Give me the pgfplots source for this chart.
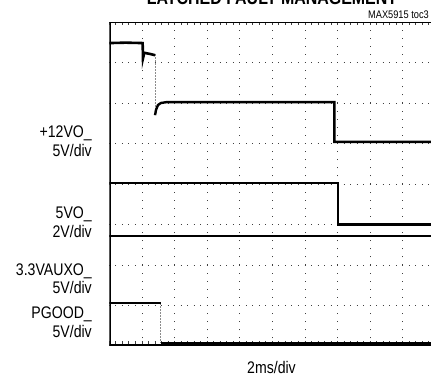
\documentclass[border=0pt]{standalone}
\usepackage{pgfplots}
\pgfplotsset{compat=1.18}
\usepackage{fontspec}
\setmainfont{Liberation Sans}[FakeStretch=0.84]
\newcommand{\lab}{\fontsize{16.8bp}{19bp}\selectfont}
\begin{document}
\begin{tikzpicture}[x=1bp,y=1bp]
\useasboundingbox (0,0) rectangle (431,378);
\clip (0,0) rectangle (431,378);
\begin{axis}[at={(109.4bp,32bp)}, anchor=south west,
  width=326bp, height=324bp, scale only axis,
  xmin=0, xmax=10, ymin=0, ymax=8, hide axis]
% graticule
\pgfplotsinvokeforeach{1,2,3,4,5,6,7,8,9}{
  \draw[black!75, line width=1bp, dash pattern=on 1bp off 7.1bp, dash phase=0.5bp] (axis cs:#1,0) -- (axis cs:#1,8);}
\pgfplotsinvokeforeach{1,2,3,4,5,6,7}{
  \draw[black!75, line width=1bp, dash pattern=on 1bp off 5.52bp, dash phase=0.5bp] (axis cs:0,#1) -- (axis cs:10,#1);}
\draw[black!75, line width=3bp, dash pattern=on 1bp off 5.52bp, dash phase=0.5bp] ([yshift=-1.5bp]axis cs:0,8) -- ([yshift=-1.5bp]axis cs:10,8);
\draw[black!75, line width=3bp, dash pattern=on 1bp off 5.52bp, dash phase=0.5bp] ([yshift=3.5bp]axis cs:0,0) -- ([yshift=3.5bp]axis cs:10,0);
% faint transitions
\addplot[black!45, line width=1bp, dash pattern=on 1.5bp off 1.5bp] coordinates {(1.40,7.20) (1.40,5.70)};
\addplot[black!45, line width=1bp, dash pattern=on 1.5bp off 1.5bp] coordinates {(1.57,1.06) (1.57,0.07)};
% +12VO_
\addplot[black, line width=2.6bp] coordinates {
 (0,7.48) (0.5,7.49) (1.02,7.48) (1.03,7.10) (1.07,7.24) (1.25,7.21) (1.40,7.18)};
\addplot[black, line width=2.4bp] coordinates {
 (1.40,5.70) (1.43,5.83) (1.49,5.95) (1.58,6.00) (1.74,6.02) (4,6.02) (6.90,6.02)
 (6.90,5.04) (10,5.04)};
% 5VO_
\addplot[black, line width=2.6bp] coordinates {
 (0,4.02) (7.01,4.02) (7.01,3.00) (10,3.00)};
% 3.3VAUXO_
\addplot[black, line width=2.6bp] coordinates {(0,2.72) (10,2.72)};
% PGOOD_
\addplot[black, line width=2.6bp] coordinates {(0,1.06) (1.57,1.06)};
\addplot[black, line width=2.6bp] coordinates {(1.57,0.07) (10,0.07)};
% borders
\draw[black, line width=1.2bp] (axis cs:0,8) -- (axis cs:10,8);
\draw[black, line width=3.3bp] (axis cs:0,-0.05) -- (axis cs:0,8);
\draw[black, line width=4.5bp] (axis cs:0,0) -- (axis cs:10,0);
\end{axis}
\node[anchor=base east, inner sep=0] at (92,241) {\lab +12VO\_};
\node[anchor=base east, inner sep=0] at (92,222) {\lab 5V/div};
\node[anchor=base east, inner sep=0] at (92,160) {\lab 5VO\_};
\node[anchor=base east, inner sep=0] at (92,141) {\lab 2V/div};
\node[anchor=base east, inner sep=0] at (92,103) {\lab 3.3VAUXO\_};
\node[anchor=base east, inner sep=0] at (92,85) {\lab 5V/div};
\node[anchor=base east, inner sep=0] at (92,60) {\lab PGOOD\_};
\node[anchor=base east, inner sep=0] at (92,41) {\lab 5V/div};
\node[anchor=base, inner sep=0] at (271.5,5) {\lab 2ms/div};
\node[anchor=base east, inner sep=0] at (429,360) {\fontsize{11bp}{13bp}\selectfont MAX5915 toc3};
\node[anchor=base, inner sep=0] at (272,374) {\fontsize{19bp}{22bp}\selectfont\bfseries LATCHED FAULT MANAGEMENT};
\end{tikzpicture}
\end{document}
